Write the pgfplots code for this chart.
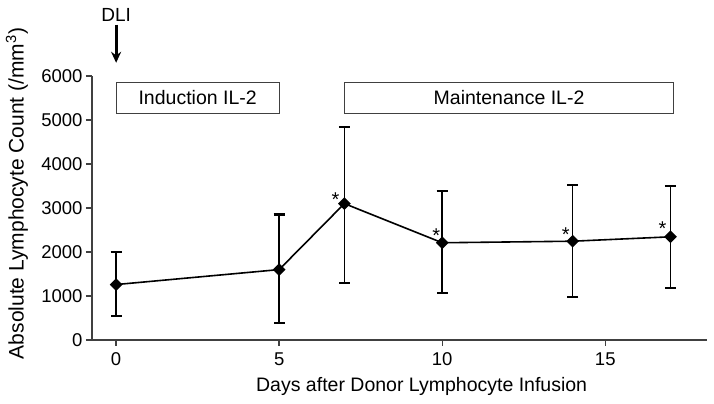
\documentclass[border=0pt]{standalone}
\usepackage{pgfplots}
\pgfplotsset{compat=1.18}
\usepackage{fontspec}
\setmainfont{Liberation Sans}
\usetikzlibrary{arrows.meta}
\begin{document}
\begin{tikzpicture}
\begin{axis}[
  scale only axis,
  width=615bp, height=264bp,
  xmin=-0.74, xmax=18.12,
  ymin=0, ymax=6000,
  axis lines*=left,
  axis line style={line width=1.4bp, black!75},
  tick align=outside,
  major tick length=6bp,
  tick style={line width=1.4bp, black!75},
  xtick={0,5,10,15},
  ytick={0,1000,...,6000},
  /pgf/number format/assume math mode=true,
  /pgf/number format/1000 sep={},
  tick label style={font=\fontsize{18.5bp}{20bp}\selectfont},
  xticklabel style={yshift=-3bp},
  xlabel style={font=\fontsize{19.5bp}{22bp}\selectfont},
  ylabel style={font=\fontsize{21bp}{24bp}\selectfont},
  xlabel={Days after Donor Lymphocyte Infusion},
  ylabel={Absolute Lymphocyte Count (/mm\textsuperscript{3})},
  xlabel style={at={(axis description cs:0.536,-0.177)}, anchor=center},
  ylabel style={at={(axis description cs:-0.122,0.555)}, anchor=center},
  clip=false,
]
\addplot[black, line width=1.6bp, mark=square*, mark size=3.7bp,
  mark options={rotate=45, solid},
  error bars/.cd, y dir=both, y explicit,
  error bar style={line width=1.6bp, black},
  error mark options={rotate=90, mark size=5.5bp, line width=2.2bp, black}]
coordinates {
  (0,1260) +=(0,747) -=(0,715)
  (5,1600) +=(0,1250) -=(0,1220)
  (7,3100) +=(0,1745) -=(0,1800)
  (10,2210) +=(0,1180) -=(0,1150)
  (14,2245) +=(0,1280) -=(0,1260)
  (17,2345) +=(0,1160) -=(0,1155)
};
% treatment boxes
\draw[line width=1.2bp, black!75, fill=white] (axis cs:0,5860) rectangle (axis cs:5,5140);
\node[font=\fontsize{19.5bp}{22bp}\selectfont] at (axis cs:2.5,5500) {Induction IL-2};
\draw[line width=1.2bp, black!75, fill=white] (axis cs:7,5860) rectangle (axis cs:17.1,5140);
\node[font=\fontsize{19.5bp}{22bp}\selectfont] at (axis cs:12.05,5500) {Maintenance IL-2};
% DLI arrow
\draw[line width=3bp, -{Stealth[length=11bp,width=10bp]}] (axis cs:0,7170) -- (axis cs:0,6300);
\node[font=\fontsize{19bp}{20bp}\selectfont, anchor=south, inner sep=0pt] at (axis cs:0,7230) {DLI};
% significance marks
\node[font=\fontsize{20bp}{22bp}\selectfont, inner sep=0pt] at (axis cs:7,3106) [xshift=-9bp, yshift=3.7bp] {*};
\node[font=\fontsize{20bp}{22bp}\selectfont, inner sep=0pt] at (axis cs:10,2212) [xshift=-6bp, yshift=6.7bp] {*};
\node[font=\fontsize{20bp}{22bp}\selectfont, inner sep=0pt] at (axis cs:14,2242) [xshift=-7bp, yshift=6.7bp] {*};
\node[font=\fontsize{20bp}{22bp}\selectfont, inner sep=0pt] at (axis cs:17,2348) [xshift=-8bp, yshift=7.7bp] {*};
\coordinate (O) at (rel axis cs:0,0);
\coordinate (T) at (rel axis cs:1,1);
\end{axis}
\path ([shift={(-92bp,-64bp)}]O) rectangle ([shift={(7bp,76bp)}]T);
\end{tikzpicture}
\end{document}
